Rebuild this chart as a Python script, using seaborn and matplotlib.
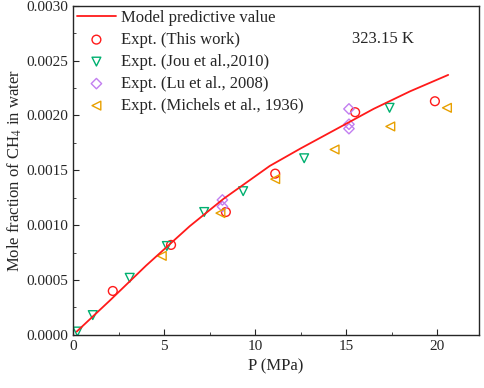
import numpy as np
import pandas as pd
import seaborn as sns
import matplotlib.pyplot as plt
from matplotlib.ticker import MultipleLocator, FormatStrFormatter

# Model curve
model_p = [0.2, 2.0, 4.0, 6.4, 8.26, 10.8, 12.5, 14.5, 16.5, 18.5, 20.6]
model_x = [0.00003, 0.00031, 0.00063, 0.00099, 0.00124, 0.00154, 0.00170,
           0.00188, 0.00206, 0.00222, 0.00237]

# Experimental points
this_p = [2.18, 5.38, 8.39, 11.1, 15.49, 19.87]
this_x = [0.00040, 0.00082, 0.00112, 0.00147, 0.00203, 0.00213]

jou_p = [0.24, 1.08, 3.11, 5.15, 7.2, 9.34, 12.69, 17.38]
jou_x = [0.00003, 0.00018, 0.00052, 0.00081, 0.00112, 0.00131, 0.00161, 0.00207]

lu_p = [8.2, 8.2, 15.15, 15.15, 15.15]
lu_x = [0.00123, 0.00117, 0.00206, 0.00192, 0.00188]

mich_p = [4.87, 8.09, 11.1, 14.36, 17.42, 20.53]
mich_x = [0.00072, 0.00111, 0.00142, 0.00169, 0.00190, 0.00207]

labels = ['Model predictive value', 'Expt. (This work)', 'Expt. (Jou et al.,2010)',
          'Expt. (Lu et al., 2008)', 'Expt. (Michels et al., 1936)']

sns.set_style('ticks')
plt.rcParams['font.family'] = ['Liberation Serif', 'DejaVu Serif']
plt.rcParams['mathtext.fontset'] = 'stix'

fig = plt.figure(figsize=(4.84, 3.88), dpi=100)
ax = fig.add_axes([0.151, 0.137, 0.839, 0.848])

sns.lineplot(x=model_p, y=model_x, ax=ax, color='#ff1a1a', linewidth=1.3,
             label=labels[0], sort=False)

sets = [
    (this_p, this_x, 'o', '#ff1a1a', labels[1]),
    (jou_p, jou_x, 'v', '#00b070', labels[2]),
    (lu_p, lu_x, 'D', '#c27ef0', labels[3]),
    (mich_p, mich_x, '<', '#e8a000', labels[4]),
]
for px, py, mk, col, lab in sets:
    size = 28 if mk == 'D' else 40
    sns.scatterplot(x=px, y=py, ax=ax, marker=mk, s=size, facecolors='none',
                    edgecolor=col, linewidth=1.0, label=lab)

ax.set_xlim(0, 22.3)
ax.set_ylim(0, 0.003)
ax.xaxis.set_major_locator(MultipleLocator(5))
ax.xaxis.set_minor_locator(MultipleLocator(2.5))
ax.yaxis.set_major_locator(MultipleLocator(0.0005))
ax.yaxis.set_minor_locator(MultipleLocator(0.00025))
ax.yaxis.set_major_formatter(FormatStrFormatter('%.4f'))
ax.tick_params(which='both', direction='in', labelsize=11, top=False, right=False)
ax.tick_params(which='major', length=4)
ax.tick_params(which='minor', length=2.5)
for sp in ax.spines.values():
    sp.set_linewidth(1.0)

ax.set_xlabel('P (MPa)', fontsize=12)
ax.set_ylabel('Mole fraction of CH$_4$ in water', fontsize=12, labelpad=2)
ax.text(15.3, 0.0027, '323.15 K', fontsize=12, va='center')

leg = ax.legend(loc='upper left', frameon=False, fontsize=12, handlelength=2.3,
                handletextpad=0.3, labelspacing=0.36, borderaxespad=0.1,
                borderpad=0.15)

fig.savefig('out.png', dpi=100)
